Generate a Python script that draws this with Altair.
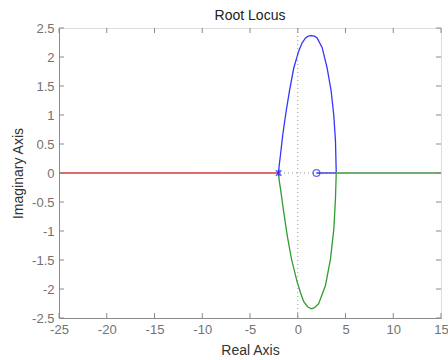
import altair as alt
import pandas as pd

# ---- data ----
x_ticks = [-25, -20, -15, -10, -5, 0, 5, 10, 15]
y_ticks = [-2.5, -2, -1.5, -1, -0.5, 0, 0.5, 1, 1.5, 2, 2.5]

# blue branch: pole -> upper arc -> break-in point -> zero on real axis
blue_re = [-2.0, -1.95, -1.81, -1.57, -1.22, -0.87, -0.42, 0.10, 0.45, 0.81, 1.10, 1.44, 1.75, 2.03, 2.56, 3.08, 3.50, 3.77, 3.95, 4.03, 1.96]
blue_im = [0.0, 0.12, 0.31, 0.66, 1.06, 1.41, 1.81, 2.10, 2.24, 2.33, 2.36, 2.37, 2.36, 2.33, 2.16, 1.81, 1.41, 1.00, 0.55, 0.0, 0.0]

# green branch: pole -> lower arc -> break-in point -> +inf on real axis
green_re = [-2.0, -1.95, -1.81, -1.47, -1.11, -0.66, -0.06, 0.30, 0.63, 1.05, 1.44, 1.80, 2.20, 2.90, 3.43, 3.78, 3.95, 4.03, 15.0]
green_im = [0.0, -0.12, -0.27, -0.67, -1.07, -1.48, -1.88, -2.07, -2.22, -2.31, -2.34, -2.32, -2.25, -1.94, -1.48, -0.96, -0.44, 0.0, 0.0]

# red branch: pole -> -inf on real axis
red_re = [-2.0, -25.0]
red_im = [0.0, 0.0]

poles_re = [-2.0]
poles_im = [0.0]
zeros_re = [1.96]
zeros_im = [0.0]

rows = []
for name, xs_, ys_ in [("blue", blue_re, blue_im), ("green", green_re, green_im), ("red", red_re, red_im)]:
    for i, (a, b) in enumerate(zip(xs_, ys_)):
        rows.append({"branch": name, "i": i, "re": a, "im": b})
df = pd.DataFrame(rows)

W, H = 382, 290
axis_gray = "#8a8a8a"
label_gray = "#727272"
font = "Liberation Sans"

xs = alt.Scale(domain=[-25, 15], nice=False, zero=False)
ys = alt.Scale(domain=[-2.5, 2.5], nice=False, zero=False)

x_axis = alt.Axis(values=x_ticks, ticks=False, tickSize=0, grid=False, labelFlush=False,
                  labelOverlap=False, labelBound=False, labelPadding=5, labelExpr="'' + datum.value",
                  labelFontSize=13, labelColor=label_gray, labelFont=font,
                  domainColor=axis_gray, title="Real Axis", titleFont=font, titleFontSize=14,
                  titleFontWeight="normal", titleColor="#333333", titleY=32, titleBaseline="middle")
y_axis = alt.Axis(values=y_ticks, ticks=False, tickSize=0, grid=False, labelFlush=False,
                  labelOverlap=False, labelBound=False, labelPadding=5, labelExpr="'' + datum.value",
                  labelFontSize=13, labelColor=label_gray, labelFont=font,
                  domainColor=axis_gray, title="Imaginary Axis", titleFont=font, titleFontSize=14,
                  titleFontWeight="normal", titleColor="#333333", titleX=-41, titleY=H / 2,
                  titleBaseline="middle", titleAngle=-90)


def X(f):
    return alt.X(f, scale=xs, axis=x_axis, title="Real Axis")


def Y(f):
    return alt.Y(f, scale=ys, axis=y_axis, title="Imaginary Axis")


lines = alt.Chart(df).mark_line(strokeWidth=1.3, clip=True).encode(
    x=X("re:Q"),
    y=Y("im:Q"),
    color=alt.Color("branch:N", scale=alt.Scale(domain=["blue", "green", "red"],
                                                range=["#3535ff", "#2f9d2f", "#ff2525"]), legend=None),
    detail="branch:N",
    order="i:Q",
)

zero_v = alt.Chart(pd.DataFrame({"re": [0]})).mark_rule(color="#9a9a9a", strokeDash=[1, 3], strokeWidth=1).encode(
    x=X("re:Q"))
zero_h = alt.Chart(pd.DataFrame({"im": [0]})).mark_rule(color="#9a9a9a", strokeDash=[1, 3], strokeWidth=1).encode(
    y=Y("im:Q"))

pole_df = pd.DataFrame({"re": poles_re, "im": poles_im})
zero_df = pd.DataFrame({"re": zeros_re, "im": zeros_im})

poles = alt.Chart(pole_df).mark_point(shape="M-1,-1L1,1M-1,1L1,-1M0,-1.2L0,1.2", size=30, color="#2020ff",
                                      strokeWidth=1.6, filled=False).encode(
    x=X("re:Q"), y=Y("im:Q"))
zeros = alt.Chart(zero_df).mark_point(shape="circle", size=45, color="#2f2fff",
                                      strokeWidth=1.4, filled=False).encode(
    x=X("re:Q"), y=Y("im:Q"))

tx = pd.DataFrame({"re": x_ticks})
ty = pd.DataFrame({"im": y_ticks})
tick_len = 5
tick_style = dict(color=axis_gray, strokeWidth=1)
xt_bottom = alt.Chart(tx).mark_rule(**tick_style).encode(
    x=X("re:Q"), y=alt.value(H), y2=alt.value(H - tick_len))
xt_top = alt.Chart(tx).mark_rule(**tick_style).encode(
    x=X("re:Q"), y=alt.value(0), y2=alt.value(tick_len))
yt_left = alt.Chart(ty).mark_rule(**tick_style).encode(
    y=Y("im:Q"), x=alt.value(0), x2=alt.value(tick_len))
yt_right = alt.Chart(ty).mark_rule(**tick_style).encode(
    y=Y("im:Q"), x=alt.value(W), x2=alt.value(W - tick_len))

chart = alt.layer(lines, zero_v, zero_h, poles, zeros, xt_bottom, xt_top, yt_left, yt_right).properties(
    width=W, height=H,
    title=alt.TitleParams("Root Locus", fontSize=14, font=font, fontWeight="normal",
                          color="#222222", offset=-1),
    autosize=alt.AutoSizeParams(type="none"),
    padding={"left": 59, "top": 28, "right": 7, "bottom": 42},
).configure_view(stroke=axis_gray, strokeWidth=1).configure(background="white")

chart.save("out.html", embed_options={"renderer": "svg", "actions": False})
